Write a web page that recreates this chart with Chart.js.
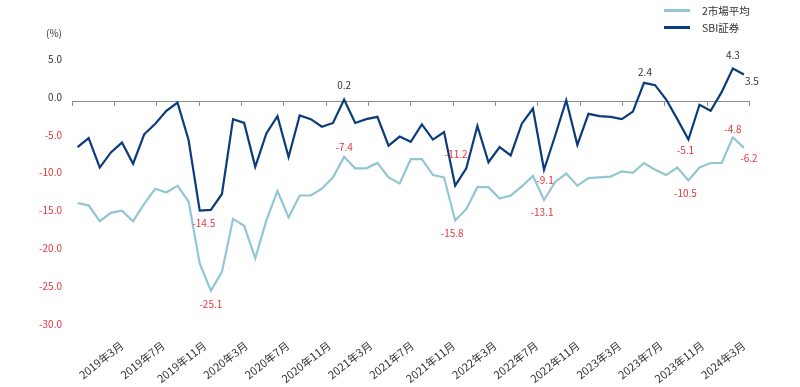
<!DOCTYPE html>
<html>
<head>
<meta charset="utf-8">
<script src="https://cdn.jsdelivr.net/npm/chart.js@4.4.1/dist/chart.umd.min.js"></script>
<style>
  body { margin: 0; background: #fff; }
  #wrap { position: relative; width: 800px; height: 387px; font-family: "Noto Sans CJK JP", "Noto Sans", sans-serif; color: #333; }
  #wrap canvas { position: absolute; left: 0; top: 0; }
  .unit { position: absolute; left: 46px; top: 25px; font-size: 10px; }
  .legend { position: absolute; left: 664px; top: 2px; font-size: 10.5px; }
  .legend div { height: 17px; line-height: 17px; display: flex; align-items: center; }
  .legend span.sw { display: inline-block; width: 26px; height: 2.5px; margin-right: 12px; }
</style>
</head>
<body>
<div id="wrap">
  <canvas id="chart" width="800" height="387"></canvas>
  <div class="unit">(%)</div>
  <div class="legend">
    <div><span class="sw" style="background:#93c6d3"></span>2市場平均</div>
    <div><span class="sw" style="background:#0b3b7a"></span>SBI証券</div>
  </div>
</div>
<script>
// 月次カテゴリ (2019年3月〜2024年3月)
const months = [
  '2019年3月','2019年4月','2019年5月','2019年6月','2019年7月','2019年8月','2019年9月','2019年10月','2019年11月','2019年12月',
  '2020年1月','2020年2月','2020年3月','2020年4月','2020年5月','2020年6月','2020年7月','2020年8月','2020年9月','2020年10月','2020年11月','2020年12月',
  '2021年1月','2021年2月','2021年3月','2021年4月','2021年5月','2021年6月','2021年7月','2021年8月','2021年9月','2021年10月','2021年11月','2021年12月',
  '2022年1月','2022年2月','2022年3月','2022年4月','2022年5月','2022年6月','2022年7月','2022年8月','2022年9月','2022年10月','2022年11月','2022年12月',
  '2023年1月','2023年2月','2023年3月','2023年4月','2023年5月','2023年6月','2023年7月','2023年8月','2023年9月','2023年10月','2023年11月','2023年12月',
  '2024年1月','2024年2月','2024年3月'
];

// SBI証券
const sbiValues = [
  -6.1, -4.9, -8.8, -6.8, -5.5, -8.3, -4.4, -3.0, -1.3, -0.2,
  -5.2, -14.5, -14.4, -12.3, -2.4, -2.9, -8.7, -4.3, -2.0, -7.4,
  -1.9, -2.4, -3.4, -2.9, 0.2, -2.9, -2.4, -2.1, -5.9, -4.7,
  -5.4, -3.1, -5.1, -4.1, -11.2, -8.9, -3.3, -8.1, -6.1, -7.2,
  -3.0, -1.0, -9.1, -4.6, 0.1, -5.8, -1.7, -2.0, -2.1, -2.4,
  -1.4, 2.4, 2.1, 0.2, -2.4, -5.1, -0.5, -1.3, 1.2, 4.3,
  3.5
];

// 2市場平均
const avgValues = [
  -13.5, -13.8, -15.9, -14.8, -14.5, -15.9, -13.6, -11.6, -12.1, -11.2,
  -13.3, -21.5, -25.1, -22.6, -15.6, -16.5, -20.8, -15.8, -11.9, -15.4,
  -12.5, -12.5, -11.6, -10.1, -7.4, -8.9, -8.9, -8.2, -10.1, -10.9,
  -7.7, -7.7, -9.8, -10.1, -15.8, -14.3, -11.4, -11.4, -12.9, -12.5,
  -11.3, -9.9, -13.1, -10.7, -9.6, -11.2, -10.2, -10.1, -10.0, -9.3,
  -9.5, -8.2, -9.1, -9.8, -8.8, -10.5, -8.8, -8.2, -8.2, -4.8,
  -6.2
];

// 軸ラベル
const xTickLabels = [
  '2019年3月','2019年7月','2019年11月','2020年3月','2020年7月','2020年11月','2021年3月','2021年7月',
  '2021年11月','2022年3月','2022年7月','2022年11月','2023年3月','2023年7月','2023年11月','2024年3月'
];
const yMin = -30;
const yMax = 5;
const yStep = 5;

const RED = '#e8343c';
const DARK = '#333333';
const NAVY = '#0b3b7a';
const LIGHT = '#93c6d3';
const AXIS = '#8c8c8c';

// 数値ラベル (dataset, index, ずらし量)
const pointLabels = [
  { ds: 0, i: 11, dx: 4, dy: 13 },
  { ds: 0, i: 24, dx: 0, dy: -14 },
  { ds: 0, i: 34, dx: 1, dy: -31 },
  { ds: 0, i: 42, dx: 1, dy: 10 },
  { ds: 0, i: 51, dx: 1, dy: -11 },
  { ds: 0, i: 55, dx: -3, dy: 11 },
  { ds: 0, i: 59, dx: 0, dy: -13 },
  { ds: 0, i: 60, dx: 8, dy: 7 },
  { ds: 1, i: 12, dx: 0, dy: 13 },
  { ds: 1, i: 24, dx: 0, dy: -10 },
  { ds: 1, i: 34, dx: -3, dy: 13 },
  { ds: 1, i: 42, dx: -2, dy: 12 },
  { ds: 1, i: 55, dx: -3, dy: 13 },
  { ds: 1, i: 59, dx: 0, dy: -8 },
  { ds: 1, i: 60, dx: 5, dy: 10 }
];

const labelPlugin = {
  id: 'pointLabels',
  afterDatasetsDraw(chart) {
    const ctx = chart.ctx;
    ctx.save();
    ctx.font = '10px "Noto Sans CJK JP", "Noto Sans", sans-serif';
    ctx.textAlign = 'center';
    ctx.textBaseline = 'middle';
    pointLabels.forEach(l => {
      const pt = chart.getDatasetMeta(l.ds).data[l.i];
      const v = chart.data.datasets[l.ds].data[l.i];
      ctx.fillStyle = v < 0 ? RED : DARK;
      ctx.fillText(v.toFixed(1), pt.x + l.dx, pt.y + l.dy);
    });
    ctx.restore();
  }
};

const n = months.length;
const xMin = -0.5;
const xMax = n - 0.5;

new Chart(document.getElementById('chart'), {
  type: 'line',
  data: {
    labels: months,
    datasets: [
      { label: 'SBI証券', data: sbiValues, borderColor: NAVY, borderWidth: 2.2, pointRadius: 0, tension: 0, fill: false },
      { label: '2市場平均', data: avgValues, borderColor: LIGHT, borderWidth: 2.2, pointRadius: 0, tension: 0, fill: false }
    ]
  },
  options: {
    responsive: false,
    animation: false,
    layout: { padding: { left: 0, right: 50.5, top: 63.2, bottom: 0 } },
    plugins: { legend: { display: false }, tooltip: { enabled: false } },
    scales: {
      x: {
        display: false,
        offset: true,
        afterFit: s => { s.height = 0; }
      },
      x0: {
        type: 'linear',
        position: { y: 0 },
        min: xMin,
        max: xMax,
        bounds: 'data',
        afterBuildTicks: s => {
          s.ticks = Array.from({ length: 17 }, (_, k) => ({ value: xMin + k * (xMax - xMin) / 16 }));
        },
        ticks: { display: false },
        grid: { drawOnChartArea: false, drawTicks: true, tickLength: 4, color: AXIS, lineWidth: 1 },
        border: { display: true, color: AXIS, width: 1 }
      },
      xl: {
        type: 'linear',
        position: 'bottom',
        min: xMin,
        max: xMax,
        bounds: 'data',
        afterBuildTicks: s => {
          const last = xTickLabels.length - 1;
          s.ticks = xTickLabels.map((_, k) => ({ value: 4 + k * (n - 1 - 4) / last }));
        },
        afterFit: s => { s.height = 387 - 327.8; },
        grid: { display: false, drawTicks: false },
        border: { display: false },
        ticks: {
          autoSkip: false,
          minRotation: 38,
          maxRotation: 38,
          padding: 11,
          color: DARK,
          font: { family: '"Noto Sans CJK JP", "Noto Sans", sans-serif', size: 11 },
          callback: (v, idx) => xTickLabels[idx]
        }
      },
      y: {
        min: yMin,
        max: yMax,
        afterFit: s => { s.width = 72; },
        grid: { display: false, drawTicks: false },
        border: { display: false },
        ticks: {
          stepSize: yStep,
          padding: 10,
          labelOffset: -4,
          color: c => c.tick.value < 0 ? RED : DARK,
          font: { family: '"Noto Sans CJK JP", "Noto Sans", sans-serif', size: 10 },
          callback: v => v.toFixed(1)
        }
      }
    }
  },
  plugins: [labelPlugin]
});
</script>
</body>
</html>
